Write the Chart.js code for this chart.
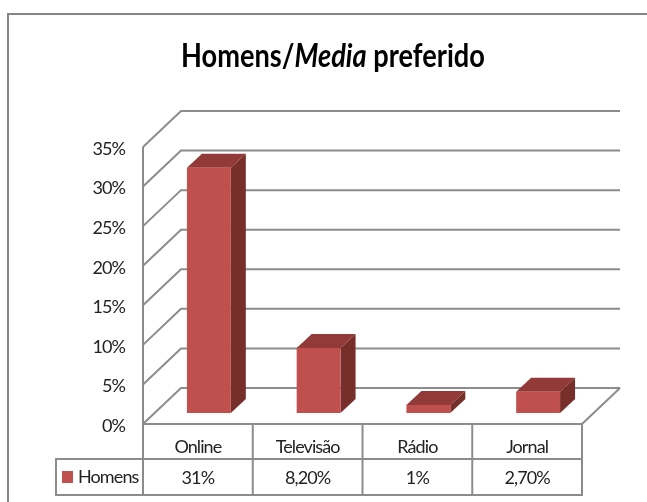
<!DOCTYPE html>
<html>
<head>
<meta charset="utf-8">
<style>
  html, body { margin: 0; padding: 0; background: #fff; overflow: hidden; }
  #wrap { width: 647px; height: 502px; }
  #chart { filter: blur(0.4px); }
</style>
<script src="https://cdn.jsdelivr.net/npm/chart.js@4"></script>
</head>
<body>
<div id="wrap"><canvas id="chart" width="647" height="502"></canvas></div>
<script>
const categories = ["Online", "Televisão", "Rádio", "Jornal"];
const seriesName = "Homens";
const values = [31, 8.2, 1, 2.7];
const tableLabels = ["31%", "8,20%", "1%", "2,70%"];
const titleParts = [["bold", "Homens/"], ["italic bold", "Media"], ["bold", " preferido"]];

const FONT = 'Lato, sans-serif';
const GRID = "#8c8c8c";
const RED = "#c0504d", RED_TOP = "#923a38", RED_SIDE = "#772f2c";
// 3d offsets
const WALL_DX = 38, WALL_DY = 36;
const BAR_DX = 11, BAR_DY = 11;
const DEPTH_X = 15, DEPTH_Y = 14;

function line(ctx, pts){
  ctx.beginPath();
  pts.forEach((p, i) => i ? ctx.lineTo(p[0], p[1]) : ctx.moveTo(p[0], p[1]));
  ctx.stroke();
}
function poly(ctx, pts, color){
  ctx.fillStyle = color;
  ctx.beginPath();
  pts.forEach((p, i) => i ? ctx.lineTo(p[0], p[1]) : ctx.moveTo(p[0], p[1]));
  ctx.closePath();
  ctx.fill();
}

const scene = {
  id: "scene",
  beforeDraw(chart){
    const ctx = chart.ctx;
    // reference text is squeezed, tighten everything the canvas writes
    ctx.letterSpacing = "-0.9px";
    ctx.save();
    // outer frame runs off the right and bottom
    ctx.strokeStyle = "#858585";
    ctx.lineWidth = 2;
    line(ctx, [[8, 502], [8, 14], [647, 14]]);

    // title, squeezed to the reference width
    ctx.letterSpacing = "0px";
    ctx.fillStyle = "#000";
    ctx.textBaseline = "alphabetic";
    ctx.translate(181, 67);
    ctx.scale(0.85, 1);
    let x = 0;
    titleParts.forEach(([style, txt]) => {
      ctx.font = style + " 32px " + FONT;
      ctx.fillText(txt, x, 0);
      x += ctx.measureText(txt).width;
    });
    ctx.restore();
  },
  beforeDatasetsDraw(chart){
    const ctx = chart.ctx, { left, right, top, bottom } = chart.chartArea;
    const y = chart.scales.y;
    ctx.save();
    ctx.strokeStyle = GRID;
    ctx.lineWidth = 2;
    y.ticks.forEach(t => {
      const py = y.getPixelForValue(t.value);
      line(ctx, [[left, py], [left + WALL_DX, py - WALL_DY], [right + WALL_DX, py - WALL_DY]]);
    });
    line(ctx, [[left, top], [left, bottom]]);
    line(ctx, [[right, bottom], [right + WALL_DX, bottom - WALL_DY]]);

    // data table
    const x = chart.scales.x;
    const row1 = 459, row2 = 495, keyLeft = 56;
    line(ctx, [[left, bottom], [right, bottom], [right, row2], [keyLeft, row2], [keyLeft, row1], [right, row1]]);
    categories.forEach((c, i) => {
      const cx = left + (right - left) * i / categories.length;
      line(ctx, [[cx, bottom], [cx, row2]]);
    });
    ctx.fillStyle = "#222";
    ctx.font = "18px " + FONT;
    ctx.textAlign = "center";
    ctx.textBaseline = "middle";
    tableLabels.forEach((t, i) => ctx.fillText(t, x.getPixelForTick(i), 478));
    ctx.textAlign = "left";
    ctx.fillText(seriesName, 78, 477);
    ctx.fillStyle = RED;
    ctx.fillRect(62, 471, 11, 12);
    ctx.restore();
  },
  beforeDatasetDraw(chart, args){
    const ctx = chart.ctx;
    chart.getDatasetMeta(args.index).data.forEach(bar => {
      const p = bar.getProps(["x", "y", "base", "width"], true);
      const l = p.x - p.width / 2 + BAR_DX, r = p.x + p.width / 2 + BAR_DX;
      const t = p.y - BAR_DY, b = p.base - BAR_DY;
      poly(ctx, [[l, t], [l + DEPTH_X, t - DEPTH_Y], [r + DEPTH_X, t - DEPTH_Y], [r, t]], RED_TOP);
      poly(ctx, [[r, t], [r + DEPTH_X, t - DEPTH_Y], [r + DEPTH_X, b - DEPTH_Y], [r, b]], RED_SIDE);
    });
    // front face is the library's own bar, moved into the 3d floor
    ctx.save();
    ctx.translate(BAR_DX, -BAR_DY);
  },
  afterDatasetDraw(chart){
    chart.ctx.restore();
  }
};

new Chart(document.getElementById("chart"), {
  type: "bar",
  data: {
    labels: categories,
    datasets: [{
      label: seriesName,
      data: values,
      backgroundColor: RED,
      borderWidth: 0,
      barPercentage: 0.4,
      categoryPercentage: 1
    }]
  },
  plugins: [scene],
  options: {
    responsive: false,
    animation: false,
    layout: { padding: { top: 147, right: 65, left: 0, bottom: 0 } },
    plugins: { legend: { display: false }, title: { display: false }, tooltip: { enabled: false } },
    scales: {
      x: {
        afterFit(s){ s.height = 78; },
        grid: { display: false },
        border: { display: false },
        ticks: { color: "#222", font: { family: FONT, size: 18 }, padding: 4, maxRotation: 0 }
      },
      y: {
        min: 0,
        max: 35,
        afterFit(s){ s.width = 143; },
        grid: { display: false, drawTicks: false },
        border: { display: false },
        ticks: {
          stepSize: 5,
          color: "#222",
          padding: 18,
          labelOffset: 2,
          font: { family: FONT, size: 18 },
          callback: v => v + "%"
        }
      }
    }
  }
});
</script>
</body>
</html>
